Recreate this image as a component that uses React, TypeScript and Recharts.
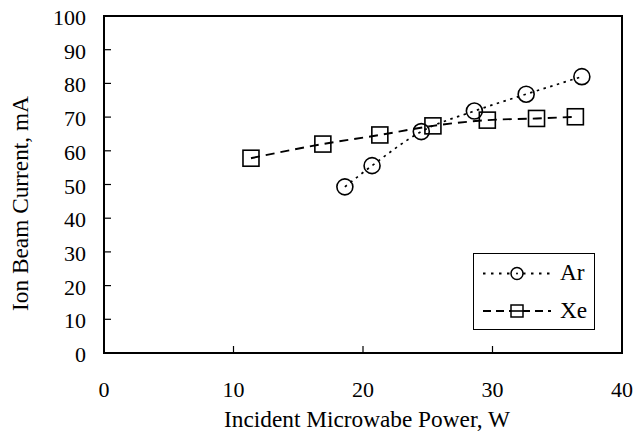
import React from 'react';
import { LineChart, Line, XAxis, YAxis, ReferenceArea, Legend, Label } from 'recharts';

const arPower = [18.6, 20.7, 24.5, 28.6, 32.6, 36.9];
const arCurrent = [49.3, 55.6, 65.7, 71.8, 76.8, 82.0];
const xePower = [11.35, 16.9, 21.3, 25.4, 29.6, 33.4, 36.4];
const xeCurrent = [57.8, 62.0, 64.7, 67.4, 69.1, 69.6, 70.1];
const xTicks = [0, 10, 20, 30, 40];
const yTicks = [0, 10, 20, 30, 40, 50, 60, 70, 80, 90, 100];
const seriesNames = ['Ar', 'Xe'];
const xTitle = 'Incident Microwabe Power, W';
const yTitle = 'Ion Beam Current, mA';

const arData = arPower.map((x, i) => ({ x, y: arCurrent[i] }));
const xeData = xePower.map((x, i) => ({ x, y: xeCurrent[i] }));

const FONT = 'Liberation Serif';
const TICK_FS = 22;
const TITLE_FS = 23.3;

const dashes: Record<string, string> = { Ar: '2.5 4.5', Xe: '9 6' };

const CircleDot = (props: any) => {
  const { cx, cy, index } = props;
  return <circle key={'c' + index} cx={cx} cy={cy} r={8} fill="none" stroke="#000" strokeWidth={1.6} />;
};
const SquareDot = (props: any) => {
  const { cx, cy, index } = props;
  return <rect key={'s' + index} x={cx - 8} y={cy - 8} width={16} height={16} fill="none" stroke="#000" strokeWidth={1.6} />;
};

const XTick = (props: any) => {
  const { x, y, payload } = props;
  return (
    <text x={x} y={y + 16} textAnchor="middle" style={{ fontFamily: FONT, fontSize: TICK_FS }} fill="#000">
      {payload.value}
    </text>
  );
};
const YTick = (props: any) => {
  const { x, y, payload } = props;
  return (
    <text x={x} y={y + 9} textAnchor="end" style={{ fontFamily: FONT, fontSize: TICK_FS }} fill="#000">
      {payload.value}
    </text>
  );
};

const LegendBox = () => (
  <svg width={122} height={77} style={{ display: 'block' }}>
    <rect x={0.5} y={0.5} width={121} height={76} fill="#fff" stroke="#000" strokeWidth={1} />
    {seriesNames.map((name, i) => {
      const cy = i === 0 ? 20.5 : 58;
      return (
        <g key={name}>
          <line x1={10} y1={cy} x2={78} y2={cy} stroke="#000" strokeWidth={1.8} strokeDasharray={name === 'Ar' ? '2.5 5.5' : '8 5'} />
          {name === 'Ar' ? (
            <>
              <circle cx={44} cy={cy} r={6} fill="#fff" stroke="#000" strokeWidth={1.5} />
              <circle cx={44} cy={cy} r={1} fill="#000" />
            </>
          ) : (
            <>
              <rect x={38} y={cy - 6} width={12} height={12} fill="#fff" stroke="#000" strokeWidth={1.5} />
              <line x1={38} y1={cy} x2={50} y2={cy} stroke="#000" strokeWidth={1.6} />
            </>
          )}
          <text x={87} y={cy + 6.5} style={{ fontFamily: FONT, fontSize: TITLE_FS }} fill="#000">{name}</text>
        </g>
      );
    })}
  </svg>
);

const YTitle = (props: any) => {
  const vb = props.viewBox;
  const cx = vb.x + 27.5;
  const cy = vb.y + vb.height / 2 + 19;
  return (
    <text x={cx} y={cy} transform={`rotate(-90 ${cx} ${cy})`} textAnchor="middle" style={{ fontFamily: FONT, fontSize: TITLE_FS }} fill="#000">
      {yTitle}
    </text>
  );
};

const XTitle = (props: any) => {
  const vb = props.viewBox;
  const cx = vb.x + vb.width / 2 + 4;
  const cy = vb.y + 74;
  return (
    <text x={cx} y={cy} textAnchor="middle" style={{ fontFamily: FONT, fontSize: TITLE_FS }} fill="#000">
      {xTitle}
    </text>
  );
};

export default function App() {
  return (
    <div style={{ position: 'absolute', left: 0, top: 0, width: 644, height: 432, background: '#fff' }}>
      <LineChart width={644} height={432} margin={{ top: 16, right: 22, bottom: 0, left: 0 }}>
        <XAxis
          type="number"
          dataKey="x"
          domain={[0, 40]}
          ticks={xTicks}
          height={79}
          tickSize={-7}
          tickMargin={35}
          tick={<XTick />}
          axisLine={{ stroke: '#000', strokeWidth: 2 }}
          tickLine={{ stroke: '#000', strokeWidth: 1.2 }}
          allowDataOverflow
        >
          <Label content={<XTitle />} />
        </XAxis>
        <YAxis
          type="number"
          dataKey="y"
          domain={[0, 100]}
          ticks={yTicks}
          width={104}
          tickSize={-7}
          tickMargin={25}
          tick={<YTick />}
          axisLine={{ stroke: '#000', strokeWidth: 2 }}
          tickLine={{ stroke: '#000', strokeWidth: 1.2 }}
          allowDataOverflow
        >
          <Label content={<YTitle />} />
        </YAxis>
        <ReferenceArea x1={0} x2={40} y1={0} y2={100} fill="none" fillOpacity={0} stroke="#000" strokeWidth={2} />
        <Line
          data={arData}
          dataKey="y"
          name="Ar"
          type="monotone"
          stroke="#000"
          strokeWidth={1.7}
          strokeDasharray={dashes.Ar}
          dot={CircleDot}
          activeDot={false}
          isAnimationActive={false}
        />
        <Line
          data={xeData}
          dataKey="y"
          name="Xe"
          type="monotone"
          stroke="#000"
          strokeWidth={1.9}
          strokeDasharray={dashes.Xe}
          dot={SquareDot}
          activeDot={false}
          isAnimationActive={false}
        />
        <Legend
          layout="vertical"
          verticalAlign="middle"
          align="center"
          content={<LegendBox />}
          wrapperStyle={{ left: 473, top: 253, width: 122, height: 77 }}
        />
      </LineChart>
    </div>
  );
}
